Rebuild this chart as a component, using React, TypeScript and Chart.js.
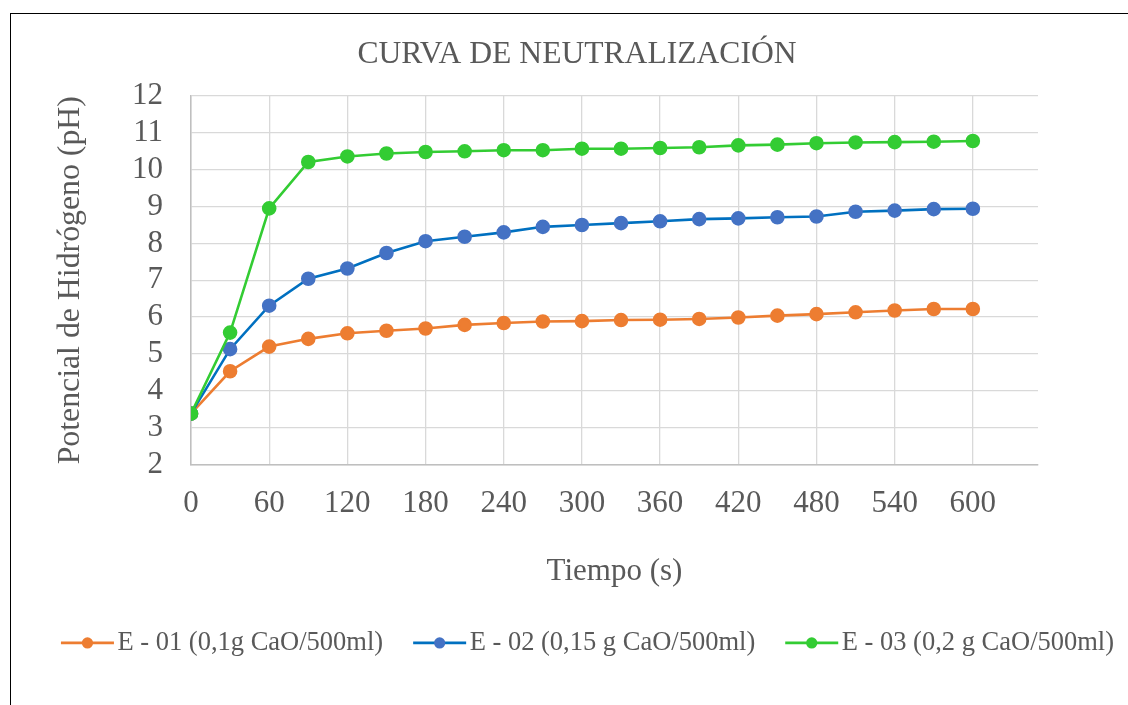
import React, { useEffect, useRef } from 'react';
import { Chart, registerables } from 'chart.js';

Chart.register(...registerables);

// Tiempo (s)
const tiempos = [0, 30, 60, 90, 120, 150, 180, 210, 240, 270, 300, 330, 360, 390, 420, 450, 480, 510, 540, 570, 600];

// pH values per experiment
const e01 = [3.38, 4.53, 5.2, 5.41, 5.56, 5.63, 5.69, 5.79, 5.84, 5.88, 5.89, 5.92, 5.93, 5.95, 5.99, 6.04, 6.08, 6.13, 6.18, 6.22, 6.22];
const e02 = [3.38, 5.13, 6.31, 7.04, 7.32, 7.74, 8.06, 8.18, 8.3, 8.45, 8.5, 8.55, 8.6, 8.66, 8.68, 8.71, 8.73, 8.86, 8.89, 8.93, 8.94];
const e03 = [3.38, 5.58, 8.95, 10.21, 10.36, 10.44, 10.48, 10.5, 10.53, 10.53, 10.57, 10.57, 10.59, 10.61, 10.66, 10.68, 10.72, 10.74, 10.75, 10.76, 10.78];

const etiquetas = ['E - 01 (0,1g CaO/500ml)', 'E - 02 (0,15 g CaO/500ml)', 'E - 03 (0,2 g CaO/500ml)'];
const lineColors = ['#ED7D31', '#0070C0', '#33CC33'];
const markerColors = ['#ED7D31', '#4472C4', '#33CC33'];

const titulo = 'CURVA DE NEUTRALIZACIÓN';
const tituloX = 'Tiempo (s)';
const tituloY = 'Potencial de Hidrógeno (pH)';

const xMin = 0;
const xMax = 650;
const xStep = 60;
const yMin = 2;
const yMax = 12;
const yStep = 1;

const FONT = "'Liberation Serif', 'Times New Roman', serif";
const TEXT = '#595959';

export default function App() {
  const ref = useRef<HTMLCanvasElement>(null);

  useEffect(() => {
    if (!ref.current) return;
    const series = [e01, e02, e03];

    // Excel centres the title and legend over the whole chart box, which is wider than the canvas
    const shiftBlocks = {
      id: 'shiftBlocks',
      afterLayout(chart: any) {
        if (chart.titleBlock) {
          chart.titleBlock.left += 13;
          chart.titleBlock.right += 13;
        }
        if (chart.legend) {
          chart.legend.left += 23.5;
          chart.legend.right += 23.5;
        }
      },
    };

    const legendMarkers = {
      id: 'legendMarkers',
      afterDraw(chart: any) {
        const legend = chart.legend;
        if (!legend || !legend.legendHitBoxes) return;
        const ctx = chart.ctx;
        legend.legendHitBoxes.forEach((hb: any, i: number) => {
          const y = hb.top + hb.height / 2;
          const x0 = hb.left;
          const x1 = hb.left + 53;
          ctx.save();
          ctx.strokeStyle = lineColors[i];
          ctx.lineWidth = 2.7;
          ctx.beginPath();
          ctx.moveTo(x0, y);
          ctx.lineTo(x1, y);
          ctx.stroke();
          ctx.fillStyle = markerColors[i];
          ctx.beginPath();
          ctx.arc((x0 + x1) / 2, y, 5.6, 0, Math.PI * 2);
          ctx.fill();
          ctx.restore();
        });
      },
    };

    const chart = new Chart(ref.current, {
      type: 'scatter',
      data: {
        datasets: series.map((s, i) => ({
          label: etiquetas[i],
          data: tiempos.map((t, j) => ({ x: t, y: s[j] })),
          showLine: true,
          borderColor: lineColors[i],
          backgroundColor: markerColors[i],
          pointBackgroundColor: markerColors[i],
          pointBorderColor: markerColors[i],
          pointRadius: 6,
          pointHoverRadius: 6,
          borderWidth: 2.6,
          order: 2 - i,
        })),
      },
      options: {
        responsive: false,
        animation: false,
        events: [],
        layout: { padding: { left: 0, right: 0, top: 0, bottom: 38.8 } },
        plugins: {
          title: {
            display: true,
            text: titulo,
            color: TEXT,
            font: { family: FONT, size: 31.6, weight: 'normal' },
            padding: { top: 35.6, bottom: 22.5 },
          },
          legend: {
            position: 'bottom',
            labels: {
              boxWidth: 43.25,
              padding: 30,
              color: TEXT,
              font: { family: FONT, size: 26.5 },
              generateLabels: (c: any) =>
                c.data.datasets.map((d: any, i: number) => ({
                  text: d.label,
                  fillStyle: 'rgba(0,0,0,0)',
                  strokeStyle: 'rgba(0,0,0,0)',
                  lineWidth: 0,
                  hidden: false,
                  datasetIndex: i,
                  fontColor: TEXT,
                })),
            },
          },
          tooltip: { enabled: false },
        },
        scales: {
          x: {
            type: 'linear',
            min: xMin,
            max: xMax,
            afterFit: (s: any) => {
              s.height = 135.2;
            },
            ticks: {
              stepSize: xStep,
              includeBounds: false,
              autoSkip: false,
              maxRotation: 0,
              padding: 21,
              color: TEXT,
              font: { family: FONT, size: 31 },
            },
            grid: { color: '#d9d9d9', lineWidth: 1.3, drawTicks: false },
            border: { color: '#bfbfbf', width: 1.5 },
            title: {
              display: true,
              text: tituloX,
              color: TEXT,
              font: { family: FONT, size: 31 },
              padding: { top: 0, bottom: 9.6 },
            },
          },
          y: {
            type: 'linear',
            min: yMin,
            max: yMax,
            afterFit: (s: any) => {
              s.width = 191;
            },
            ticks: {
              stepSize: yStep,
              autoSkip: false,
              padding: 28,
              color: TEXT,
              font: { family: FONT, size: 31 },
            },
            grid: { color: '#d9d9d9', lineWidth: 1.3, drawTicks: false },
            border: { color: '#bfbfbf', width: 1.5 },
            title: {
              display: true,
              text: tituloY,
              color: TEXT,
              font: { family: FONT, size: 31.8 },
              padding: { top: 52, bottom: 0 },
            },
          },
          yRight: {
            type: 'linear',
            position: 'right',
            display: true,
            afterFit: (s: any) => {
              s.width = 90;
            },
            grid: { display: false, drawTicks: false },
            border: { display: false },
            ticks: { display: false },
          },
        },
      } as any,
      plugins: [shiftBlocks, legendMarkers],
    });
    return () => chart.destroy();
  }, []);

  return (
    <div style={{ position: 'fixed', left: 0, top: 0, width: 1128, height: 705, overflow: 'hidden', background: '#fff' }}>
      <div
        style={{
          position: 'absolute',
          left: 10,
          top: 13,
          width: 1300,
          height: 900,
          borderLeft: '1.5px solid #000',
          borderTop: '1.5px solid #000',
        }}
      />
      <canvas ref={ref} width={1128} height={705} style={{ position: 'absolute', left: 0, top: 0, width: 1128, height: 705 }} />
    </div>
  );
}
